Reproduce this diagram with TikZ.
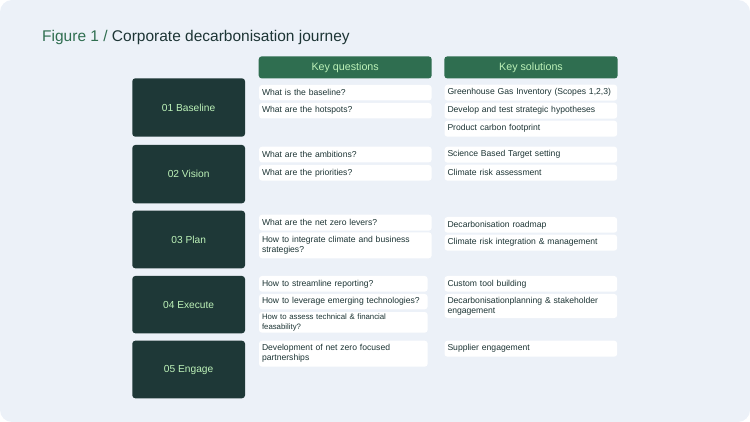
\documentclass[tikz,border=0pt]{standalone}
\usepackage{fontspec}
\setmainfont{Liberation Sans}
\usepackage{xcolor}

\definecolor{bgcol}{HTML}{ECF1F8}
\definecolor{darkteal}{HTML}{1E3837}
\definecolor{hdgreen}{HTML}{2F6E50}
\definecolor{lightgreen}{HTML}{BDF2B8}
\definecolor{inkcol}{HTML}{1D3535}

\begin{document}
\begin{tikzpicture}[x=1pt,y=-1pt,
  stage/.style={fill=darkteal,rounded corners=3pt,anchor=north west,inner sep=0pt,outer sep=0pt,
    minimum width=112.7pt,text=lightgreen,font=\fontsize{10.2}{12}\selectfont},
  header/.style={fill=hdgreen,rounded corners=3pt,anchor=north west,inner sep=0pt,outer sep=0pt,
    minimum width=173pt,minimum height=22pt,text=lightgreen,font=\fontsize{10.7}{12}\selectfont},
  cell/.style={fill=white,rounded corners=3pt,anchor=north west,inner xsep=3pt,inner ysep=0pt,outer sep=0pt,
    text width=166.7pt,align=left,text=inkcol,font=\fontsize{8.6}{10}\selectfont},
  shortcell/.style={cell,text width=162.7pt}]

\useasboundingbox (0,0) rectangle (750,422);
\fill[bgcol,rounded corners=12pt] (0,0) rectangle (750,422);

\node[anchor=base west,inner sep=0pt,font=\fontsize{15.5}{18}\selectfont] (title) at (42,41.5)
  {\textcolor{hdgreen}{Figure 1 /} \textcolor{inkcol}{Corporate decarbonisation journey}};

\node[header] (kq) at (258.7,56.4) {Key questions};
\node[header,minimum width=173.4pt] (ks) at (444.3,56.4) {Key solutions};

\node[stage,minimum height=58.4pt] (baseline) at (132.3,78.3) {01 Baseline};
\node[stage,minimum height=58.3pt] (vision) at (132.3,145) {02 Vision};
\node[stage,minimum height=57.6pt] (plan) at (132.3,210.7) {03 Plan};
\node[stage,minimum height=57.3pt] (execute) at (132.3,276) {04 Execute};
\node[stage,minimum height=57.6pt] (engage) at (132.3,340.7) {05 Engage};

\node[cell,minimum height=15.5pt] (q1a) at (259,85) {What is the baseline?};
\node[cell,minimum height=15.5pt] (q1b) at (259,103) {What are the hotspots?};
\node[cell,minimum height=16pt] (s1a) at (444.5,84.7) {Greenhouse Gas Inventory (Scopes 1,2,3)};
\node[cell,minimum height=16pt] (s1b) at (444.5,102.7) {Develop and test strategic hypotheses};
\node[cell,minimum height=16pt] (s1c) at (444.5,120.7) {Product carbon footprint};

\node[cell,minimum height=15.7pt] (q2a) at (259,146.7) {What are the ambitions?};
\node[cell,minimum height=15.7pt] (q2b) at (259,165) {What are the priorities?};
\node[cell,minimum height=16pt] (s2a) at (444.5,146.7) {Science Based Target setting};
\node[cell,minimum height=16pt] (s2b) at (444.5,164.7) {Climate risk assessment};

\node[cell,minimum height=16pt] (q3a) at (259,214.7) {What are the net zero levers?};
\node[cell,minimum height=26pt] (q3b) at (259,232.3) {How to integrate climate and business\\strategies?};
\node[cell,minimum height=15.7pt] (s3a) at (444.5,217) {Decarbonisation roadmap};
\node[cell,minimum height=16pt] (s3b) at (444.5,234.7) {Climate risk integration \& management};

\node[shortcell,minimum height=15.7pt] (q4a) at (259,276) {How to streamline reporting?};
\node[shortcell,minimum height=15.3pt] (q4b) at (259,294) {How to leverage emerging technologies?};
\node[shortcell,minimum height=20.7pt,font=\fontsize{7.8}{9.3}\selectfont] (q4c) at (259,312) {How to assess technical \& financial\\feasability?};
\node[cell,minimum height=15.7pt] (s4a) at (444.5,276) {Custom tool building};
\node[cell,minimum height=24pt] (s4b) at (444.5,294) {Decarbonisationplanning \& stakeholder\\engagement};

\node[shortcell,minimum height=26pt] (q5a) at (259,340.7) {Development of net zero focused\\partnerships};
\node[cell,minimum height=16pt] (s5a) at (444.5,340.7) {Supplier engagement};
\end{tikzpicture}
\end{document}
